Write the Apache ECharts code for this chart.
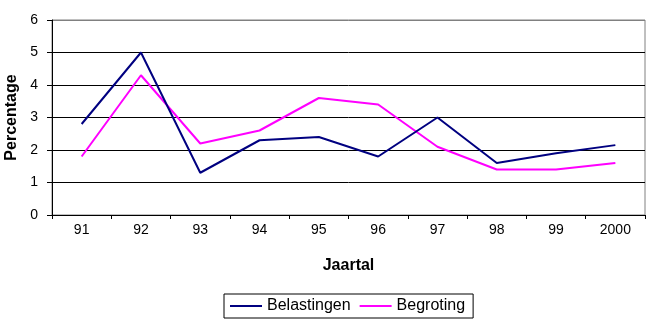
<!DOCTYPE html>
<html>
<head>
<meta charset="utf-8">
<script src="https://cdn.jsdelivr.net/npm/echarts@6/dist/echarts.min.js"></script>
<style>
  html, body { margin: 0; padding: 0; background: #fff; }
  #chart { width: 650px; height: 325px; }
</style>
</head>
<body>
<div id="chart"></div>
<script>
/* ── data ── */
const years = ["91", "92", "93", "94", "95", "96", "97", "98", "99", "2000"];
const belastingen = [2.8, 5.0, 1.3, 2.3, 2.4, 1.8, 3.0, 1.6, 1.9, 2.15];
const begroting = [1.8, 4.3, 2.2, 2.6, 3.6, 3.4, 2.1, 1.4, 1.4, 1.6];

const FONT = "Liberation Sans, Arial, sans-serif";
const NAVY = "#000080";
const MAGENTA = "#ff00ff";

const chart = echarts.init(document.getElementById("chart"), null, { renderer: "canvas" });

chart.setOption({
  animation: false,
  backgroundColor: "#fff",
  grid: {
    left: 52, right: 5, top: 20, bottom: 110,
    outerBoundsMode: "none",
    containLabel: false,
    show: true, borderColor: "#808080", borderWidth: 1,
  },
  legend: {
    left: 224, top: 294,
    padding: [4, 8, 4, 6],
    itemGap: 9,
    itemWidth: 32, itemHeight: 2,
    borderColor: "#000", borderWidth: 1,
    textStyle: { fontFamily: FONT, fontSize: 16, color: "#000" },
    data: [
      { name: "Belastingen", icon: "rect" },
      { name: "Begroting", icon: "rect" },
    ],
  },
  xAxis: {
    type: "category",
    data: years,
    boundaryGap: true,
    name: "Jaartal",
    nameLocation: "middle",
    nameGap: 43,
    nameTextStyle: { fontFamily: FONT, fontSize: 16, fontWeight: "bold", color: "#000" },
    axisLine: { lineStyle: { color: "#000", width: 1 } },
    axisTick: { show: true, length: 4, lineStyle: { color: "#000" } },
    axisLabel: { fontFamily: FONT, fontSize: 14, color: "#000", margin: 8 },
    splitLine: { show: false },
  },
  yAxis: {
    type: "value",
    min: 0, max: 6, interval: 1,
    name: "Percentage",
    nameLocation: "middle",
    nameGap: 32,
    nameRotate: 90,
    nameTextStyle: { fontFamily: FONT, fontSize: 16, fontWeight: "bold", color: "#000" },
    axisLine: { show: true, lineStyle: { color: "#000", width: 1 } },
    axisTick: { show: true, length: 5, lineStyle: { color: "#000" } },
    axisLabel: { fontFamily: FONT, fontSize: 14, color: "#000", margin: 14 },
    splitLine: {
      show: true,
      lineStyle: { color: ["#000", "#000", "#000", "#000", "#000", "#000", "#808080"], width: 1 },
    },
  },
  series: [
    {
      name: "Belastingen",
      type: "line",
      data: belastingen,
      symbol: "none",
      lineStyle: { color: NAVY, width: 2 },
      itemStyle: { color: NAVY },
      z: 3,
    },
    {
      name: "Begroting",
      type: "line",
      data: begroting,
      symbol: "none",
      lineStyle: { color: MAGENTA, width: 2 },
      itemStyle: { color: MAGENTA },
      z: 2,
    },
  ],
});
</script>
</body>
</html>
